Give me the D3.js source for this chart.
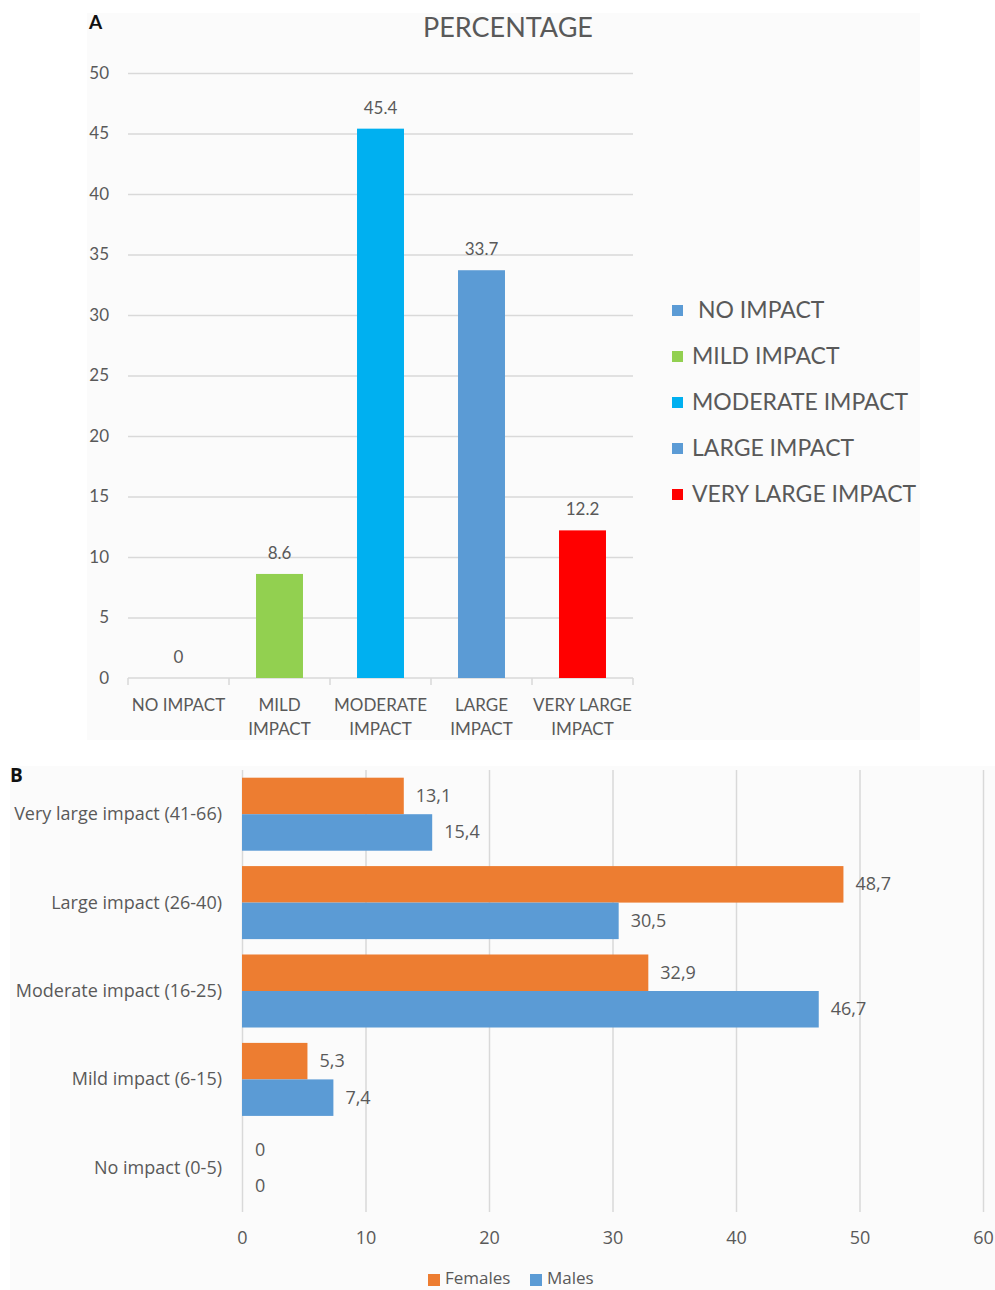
<!DOCTYPE html>
<html>
<head>
<meta charset="utf-8">
<script src="https://cdn.jsdelivr.net/npm/d3@7"></script>
<style>
  html, body { margin: 0; padding: 0; background: #ffffff; }
  svg { display: block; }
  text { font-family: Lato, "Open Sans", sans-serif; fill: #595959; }
  .panelB text { font-family: "Open Sans", Lato, sans-serif; }
</style>
</head>
<body>
<svg id="chart" width="995" height="1290"></svg>
<script>
// ---- Panel A: overall impact distribution (percent) ----
const impactCategories = ["NO IMPACT", "MILD IMPACT", "MODERATE IMPACT", "LARGE IMPACT", "VERY LARGE IMPACT"];
const impactTickLines = [["NO IMPACT"], ["MILD", "IMPACT"], ["MODERATE", "IMPACT"], ["LARGE", "IMPACT"], ["VERY LARGE", "IMPACT"]];
const impactPercent = [0, 8.6, 45.4, 33.7, 12.2];
const impactColors = ["#5B9BD5", "#92D050", "#00B0F0", "#5B9BD5", "#FF0000"];
const percentTicks = [0, 5, 10, 15, 20, 25, 30, 35, 40, 45, 50];

// ---- Panel B: impact by sex ----
const sexGroups = ["Very large impact (41-66)", "Large impact (26-40)", "Moderate impact (16-25)", "Mild impact (6-15)", "No impact (0-5)"];
const seriesNames = ["Females", "Males"];
const femalesValues = [13.1, 48.7, 32.9, 5.3, 0];
const malesValues = [15.4, 30.5, 46.7, 7.4, 0];
const seriesColors = ["#ED7D31", "#5B9BD5"];
const sexTicks = [0, 10, 20, 30, 40, 50, 60];

const svg = d3.select("#chart");
const gridColor = "#d9d9d9";
const fmtComma = v => String(v).replace(".", ",");

// ================= Panel A =================
const A = svg.append("g");
A.append("rect").attr("x", 87).attr("y", 13).attr("width", 833).attr("height", 727).attr("fill", "#fbfbfb");
A.append("text").attr("x", 89).attr("y", 29).text("A")
  .style("font-weight", "bold").style("font-size", "19px").style("fill", "#111");
A.append("text").attr("x", 508).attr("y", 37).attr("text-anchor", "middle")
  .style("font-size", "27px").text("PERCENTAGE");

const xA = d3.scaleBand().domain(impactCategories).range([128, 633]).paddingInner(0.535).paddingOuter(0.2675);
const yA = d3.scaleLinear().domain([0, 50]).range([678, 73]);

// horizontal gridlines + y labels
const yAxisA = d3.axisLeft(yA).tickValues(percentTicks).tickSize(-(633 - 128)).tickPadding(19);
const gyA = A.append("g").attr("transform", "translate(128,0)").call(yAxisA);
gyA.select(".domain").remove();
gyA.selectAll(".tick line").attr("stroke", gridColor).attr("stroke-width", 1.5);
gyA.selectAll(".tick text").style("font-size", "17px").style("font-family", "Lato, sans-serif").attr("fill", "#595959");
gyA.selectAll(".tick").filter(d => d === 0).select("line").remove();

// x axis line with category boundary ticks
const stepA = (633 - 128) / impactCategories.length;
const xLineA = A.append("g");
xLineA.append("line").attr("x1", 128).attr("x2", 633).attr("y1", yA(0)).attr("y2", yA(0))
  .attr("stroke", gridColor).attr("stroke-width", 1.5);
xLineA.selectAll("line.tk").data(d3.range(impactCategories.length + 1)).join("line")
  .attr("class", "tk")
  .attr("x1", i => 128 + i * stepA).attr("x2", i => 128 + i * stepA)
  .attr("y1", yA(0)).attr("y2", yA(0) + 7)
  .attr("stroke", gridColor).attr("stroke-width", 1.5);

// category labels
const catLabels = A.append("g");
impactCategories.forEach((c, i) => {
  const cx = xA(c) + xA.bandwidth() / 2;
  const t = catLabels.append("text").attr("x", cx).attr("y", 711).attr("text-anchor", "middle").style("font-size", "17px");
  impactTickLines[i].forEach((ln, j) => {
    t.append("tspan").attr("x", cx).attr("dy", j === 0 ? 0 : 24).text(ln);
  });
});

// bars
A.append("g").selectAll("rect").data(impactCategories).join("rect")
  .attr("x", c => xA(c))
  .attr("width", xA.bandwidth())
  .attr("y", (c, i) => yA(impactPercent[i]))
  .attr("height", (c, i) => yA(0) - yA(impactPercent[i]))
  .attr("fill", (c, i) => impactColors[i]);

// value labels
A.append("g").selectAll("text").data(impactCategories).join("text")
  .attr("x", c => xA(c) + xA.bandwidth() / 2)
  .attr("y", (c, i) => yA(impactPercent[i]) - 15)
  .attr("text-anchor", "middle").style("font-size", "17px")
  .text((c, i) => impactPercent[i]);

// legend
const legA = A.append("g");
impactCategories.forEach((c, i) => {
  const y = 310 + i * 46;
  legA.append("rect").attr("x", 672).attr("y", y - 5).attr("width", 11).attr("height", 11).attr("fill", impactColors[i]);
  legA.append("text").attr("x", i === 0 ? 698 : 692).attr("y", y + 8).style("font-size", "23px").text(c);
});

// ================= Panel B =================
const B = svg.append("g").attr("class", "panelB");
B.append("rect").attr("x", 10).attr("y", 766).attr("width", 985).attr("height", 524).attr("fill", "#fbfbfb");
B.append("text").attr("x", 10).attr("y", 782).text("B")
  .style("font-weight", "bold").style("font-size", "19px").style("fill", "#111");

const xB = d3.scaleLinear().domain([0, 60]).range([242, 983]);
const yB = d3.scaleBand().domain(sexGroups).range([770, 1212]).paddingInner(0.174).paddingOuter(0.087);
const ySub = d3.scaleBand().domain(seriesNames).range([0, yB.bandwidth()]);

// vertical gridlines and tick labels
const xAxisB = d3.axisBottom(xB).tickValues(sexTicks).tickSize(-(1212 - 770)).tickPadding(19);
const gxB = B.append("g").attr("transform", "translate(0,1212)").call(xAxisB);
gxB.select(".domain").remove();
gxB.selectAll(".tick line").attr("stroke", gridColor).attr("stroke-width", 1.5);
gxB.selectAll(".tick text").style("font-size", "18px").style("font-family", "'Open Sans', sans-serif").attr("fill", "#595959");

// category labels
B.append("g").selectAll("text").data(sexGroups).join("text")
  .attr("x", 222).attr("y", g => yB(g) + yB.bandwidth() / 2 + 6)
  .attr("text-anchor", "end").style("font-size", "18px").text(g => g);

const seriesData = [femalesValues, malesValues];
seriesNames.forEach((s, si) => {
  const vals = seriesData[si];
  B.append("g").selectAll("rect").data(sexGroups).join("rect")
    .attr("x", xB(0))
    .attr("y", g => yB(g) + ySub(s))
    .attr("height", ySub.bandwidth())
    .attr("width", (g, i) => xB(vals[i]) - xB(0))
    .attr("fill", seriesColors[si]);
  B.append("g").selectAll("text").data(sexGroups).join("text")
    .attr("x", (g, i) => xB(vals[i]) + (vals[i] === 0 ? 13 : 12))
    .attr("y", g => yB(g) + ySub(s) + ySub.bandwidth() / 2 + 6)
    .style("font-size", "18px")
    .text((g, i) => fmtComma(vals[i]));
});

// legend
const legB = B.append("g");
const legPos = [[428, 445], [530, 547]];
seriesNames.forEach((s, i) => {
  legB.append("rect").attr("x", legPos[i][0]).attr("y", 1274).attr("width", 12).attr("height", 12).attr("fill", seriesColors[i]);
  legB.append("text").attr("x", legPos[i][1]).attr("y", 1284).style("font-size", "17px").text(s);
});
</script>
</body>
</html>
